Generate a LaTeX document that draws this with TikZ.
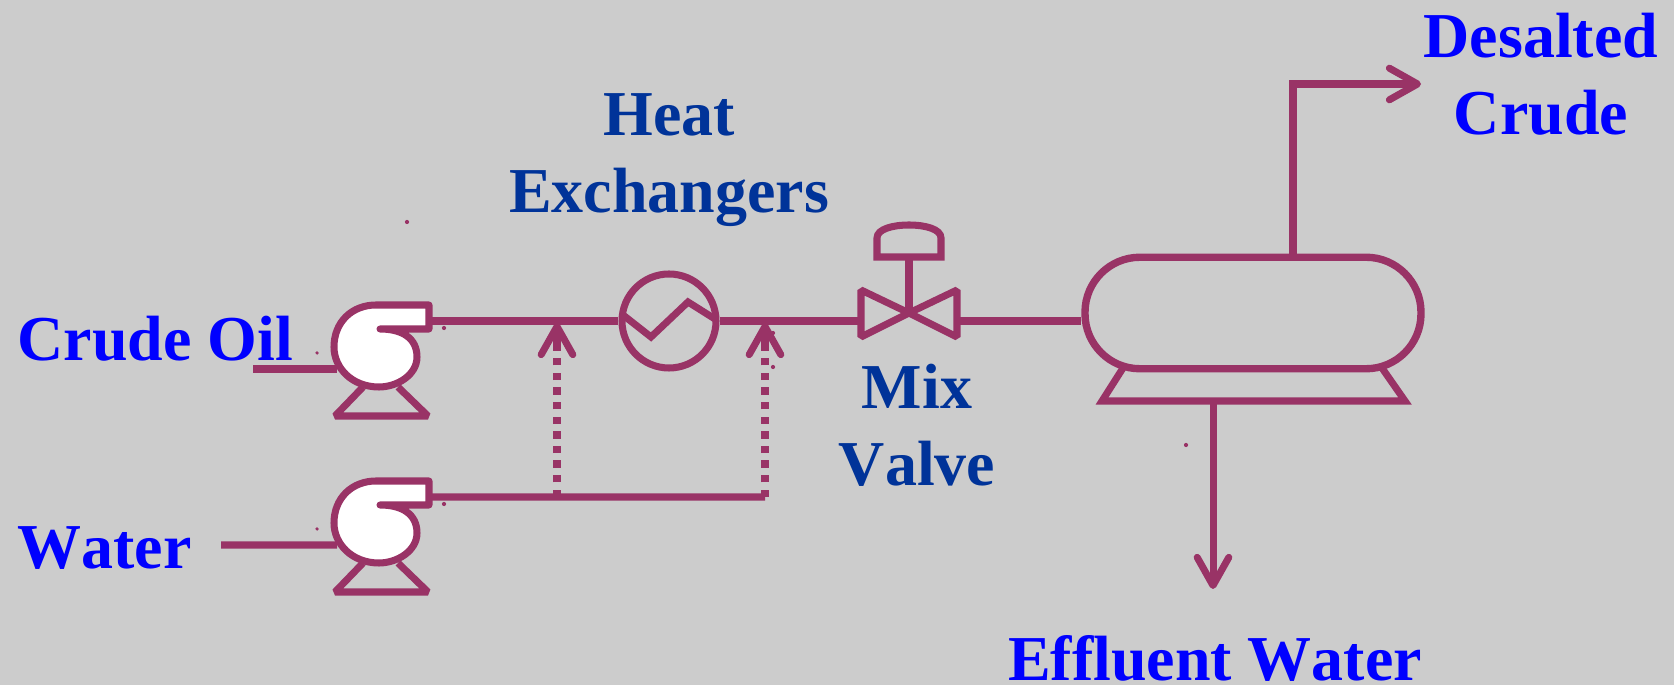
\documentclass[tikz,border=0pt]{standalone}
\usepackage{fontspec}
\setmainfont[Kerning=Off]{Liberation Serif}
\definecolor{pipecol}{RGB}{153,51,102}
\definecolor{bgcol}{RGB}{204,204,204}
\definecolor{streamcol}{RGB}{0,0,255}
\definecolor{unitcol}{RGB}{0,51,153}
\usetikzlibrary{arrows.meta}
\tikzstyle{pipe} = [pipecol, line width=2pt]
\tikzstyle{arrow} = [pipe, -{Straight Barb[length=8pt,width=9pt,round]}]
\tikzstyle{dotline} = [pipe, dash pattern=on 2.08pt off 2.08pt]
\tikzstyle{stream} = [text=streamcol, inner sep=0pt, font=\fontsize{18.2}{22}\selectfont\bfseries, align=center]
\tikzstyle{unit} = [text=unitcol, inner sep=0pt, font=\fontsize{18.2}{22}\selectfont\bfseries, align=center]
\tikzstyle{speck} = [circle, fill=pipecol, inner sep=0pt, minimum size=1.2pt]
\begin{document}
\begin{tikzpicture}[y=-1cm]
    \fill[bgcol] (0,0) rectangle (16.74,6.85);
    \useasboundingbox (0,0) rectangle (16.74,6.85);
    % pumps
    \foreach \name/\dy in {oil/0, wat/1.76} {
        \begin{scope}[yshift=-\dy cm]
            \draw[pipe, fill=white, line join=round, line cap=round] (3.80,3.29) .. controls (4.02,3.29) and (4.17,3.38) .. (4.17,3.57) .. controls (4.17,3.75) and (3.97,3.87) .. (3.79,3.87) .. controls (3.52,3.87) and (3.34,3.68) .. (3.34,3.47) .. controls (3.34,3.22) and (3.52,3.05) .. (3.76,3.05) -- (4.29,3.05) -- (4.29,3.29) -- cycle;
            \draw[pipe, line join=bevel] (3.63,3.87) -- (3.35,4.16) -- (4.28,4.16) -- (3.98,3.87);
            \coordinate (\name-in) at (3.37,3.69);
            \coordinate (\name-out) at (4.30,3.21);
            \node[speck, minimum size=1pt] (\name-a) at (3.17,3.53) {};
            \node[speck] (\name-b) at (4.44,3.28) {};
        \end{scope}
    }
    % units
    \node[circle, draw=pipecol, line width=2pt, minimum size=0.94cm, inner sep=0pt] (hex) at (6.69,3.21) {};
    \draw[pipe] (6.23,3.15) -- (6.51,3.37) -- (6.88,3.02) -- (7.15,3.19);
    \draw[pipe, line join=bevel] (9.09,3.13) -- (8.61,2.90) -- (8.61,3.37) -- cycle;
    \draw[pipe, line join=bevel] (9.09,3.13) -- (9.57,2.90) -- (9.57,3.37) -- cycle;
    \draw[pipe] (8.77,2.57) -- (9.41,2.57) -- (9.41,2.38) .. controls (9.41,2.29) and (9.25,2.25) .. (9.09,2.25) .. controls (8.93,2.25) and (8.77,2.29) .. (8.77,2.38) -- cycle;
    \draw[pipe] (9.09,3.13) -- (9.09,2.57);
    \coordinate (valveL) at (8.61,3.21);
    \coordinate (valveR) at (9.57,3.21);
    \node[rectangle, draw=pipecol, line width=2.1pt, rounded corners=0.55cm, minimum width=3.36cm, minimum height=1.115cm, inner sep=0pt] (vessel) at (12.53,3.13) {};
    \draw[pipe, miter limit=5] (11.23,3.68) -- (11.02,4.01) -- (14.05,4.01) -- (13.82,3.68);
    % pipes
    \coordinate (top) at (12.93,0.84);
    \coordinate (topEnd) at (14.21,0.84);
    \coordinate (botStart) at (12.13,4.01);
    \coordinate (botEnd) at (12.13,5.89);
    \coordinate (oilStart) at (2.53,3.69);
    \coordinate (watStart) at (2.21,5.45);
    \coordinate (mixA) at (5.57,3.23);
    \coordinate (mixB) at (7.65,3.23);
    \coordinate (watA) at (5.57,4.97);
    \coordinate (watB) at (7.65,4.97);
    \coordinate (dotA) at (5.57,3.43);
    \coordinate (dotB) at (7.65,3.43);
    \draw[pipe] (oilStart) -- (oil-in);
    \draw[pipe] (watStart) -- (wat-in);
    \draw[pipe] (oil-out) -- (hex.west);
    \draw[pipe] (hex.east) -- (valveL);
    \draw[pipe] (valveR) -- (vessel.west |- valveR);
    \draw[pipe] (wat-out) -- (watB);
    \draw[arrow] (vessel.north -| top) -- (top) -- (topEnd);
    \draw[arrow] (botStart) -- (botEnd);
    \draw[dotline] (watA) -- (dotA);
    \draw[dotline] (watB) -- (dotB);
    \draw[arrow] (dotA) -- (mixA);
    \draw[arrow] (dotB) -- (mixB);
    % labels
    \node[stream, anchor=base west] (crude) at (0.17,3.61) {Crude Oil};
    \node[stream, anchor=base west] (water) at (0.17,5.69) {Water};
    \node[stream] (desalted) at (15.41,0.74) {Desalted\\Crude};
    \node[stream, anchor=base] (effluent) at (12.15,6.81) {Effluent Water};
    \node[unit] (hexlabel) at (6.69,1.60) {Heat\\Exchangers};
    \node[unit] (mix) at (9.17,4.25) {Mix\\Valve};
    % specks
    \node[speck] (s1) at (4.07,2.22) {};
    \node[speck] (s2) at (11.86,4.45) {};
    \node[speck] (s3) at (7.73,3.67) {};
    \node[speck] (s4) at (7.73,3.33) {};
\end{tikzpicture}
\end{document}
